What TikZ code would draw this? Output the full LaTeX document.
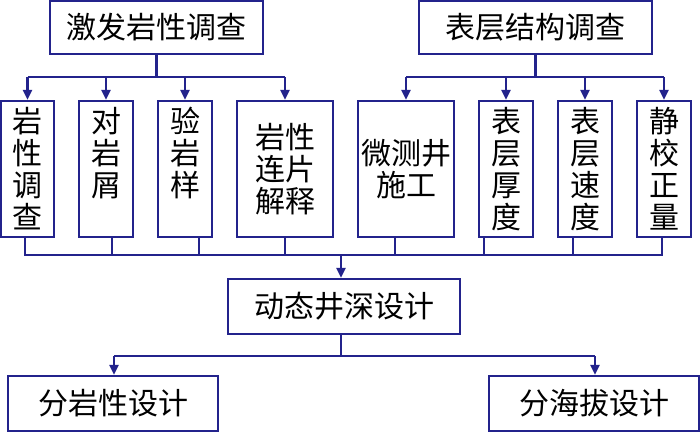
\documentclass[tikz,border=0pt]{standalone}
\usepackage{fontspec}
\setmainfont{Noto Sans CJK SC}
\usetikzlibrary{arrows.meta}
\definecolor{navy}{RGB}{35,35,140}
\begin{document}
\begin{tikzpicture}[x=1pt,y=-1pt,
  box/.style={draw=navy,line width=2.2pt,inner sep=0pt,align=center,
    font=\fontsize{30}{32}\selectfont},
  link/.style={draw=navy,line width=2.2pt},
  arr/.style={link,-{Triangle[length=10pt,width=9pt]}}]
\useasboundingbox (0,0) rectangle (700,432);
% top boxes
\node[box,minimum width=213pt,minimum height=53pt] (t1) at (156.5,27.5) {激发岩性调查};
\node[box,minimum width=233pt,minimum height=53pt] (t2) at (535.5,27.5) {表层结构调查};
% middle row
\node[box,minimum width=53pt,minimum height=136pt] (b1) at (27.5,169) {岩\\性\\调\\查};
\node[box,minimum width=54pt,minimum height=136pt] (b2) at (106,169) {对\\岩\\屑\\\phantom{屑}};
\node[box,minimum width=54pt,minimum height=136pt] (b3) at (185,169) {验\\岩\\样\\\phantom{样}};
\node[box,minimum width=96pt,minimum height=136pt] (b4) at (285,169) {岩性\\连片\\解释};
\node[box,minimum width=96pt,minimum height=136pt] (b5) at (406,169) {微测井\\施工};
\node[box,minimum width=54pt,minimum height=136pt] (b6) at (506,169) {表\\层\\厚\\度};
\node[box,minimum width=54pt,minimum height=136pt] (b7) at (585,169) {表\\层\\速\\度};
\node[box,minimum width=54pt,minimum height=136pt] (b8) at (664,169) {静\\校\\正\\量};
% design boxes
\node[box,minimum width=232pt,minimum height=55pt] (m) at (344,306.5) {动态井深设计};
\node[box,minimum width=210pt,minimum height=55pt] (d1) at (113,403.5) {分岩性设计};
\node[box,minimum width=210pt,minimum height=55pt] (d2) at (594,403.5) {分海拔设计};
% junction coordinates
\coordinate (j1) at (156.5,77);
\coordinate (j2) at (535.5,77);
\coordinate (jb) at (341,255);
\coordinate (jm) at (341,356);
% top-left tree
\draw[link] (t1.south) -- (j1);
\draw[link] (27.5,77) -- (285,77);
\draw[arr] (27.5,77) -- (b1.north);
\draw[arr] (106,77) -- (b2.north);
\draw[arr] (185,77) -- (b3.north);
\draw[arr] (285,77) -- (b4.north);
% top-right tree
\draw[link] (t2.south) -- (j2);
\draw[link] (406,77) -- (664,77);
\draw[arr] (406,77) -- (b5.north);
\draw[arr] (506,77) -- (b6.north);
\draw[arr] (585,77) -- (b7.north);
\draw[arr] (664,77) -- (b8.north);
% collector
\draw[link] (b1.south -| 25,0) -- (25,255) -- (662,255) -- (b8.south -| 662,0);
\draw[link] (b2.south -| 112,0) -- (112,255);
\draw[link] (b3.south -| 199,0) -- (199,255);
\draw[link] (b4.south -| 285,0) -- (285,255);
\draw[link] (b5.south -| 395,0) -- (395,255);
\draw[link] (b6.south -| 484,0) -- (484,255);
\draw[link] (b7.south -| 573,0) -- (573,255);
\draw[arr] (jb) -- (m.north -| jb);
% bottom tree
\draw[link] (m.south -| jm) -- (jm);
\draw[link] (114,356) -- (595,356);
\draw[arr] (114,356) -- (d1.north -| 114,0);
\draw[arr] (595,356) -- (d2.north -| 595,0);
\end{tikzpicture}
\end{document}
